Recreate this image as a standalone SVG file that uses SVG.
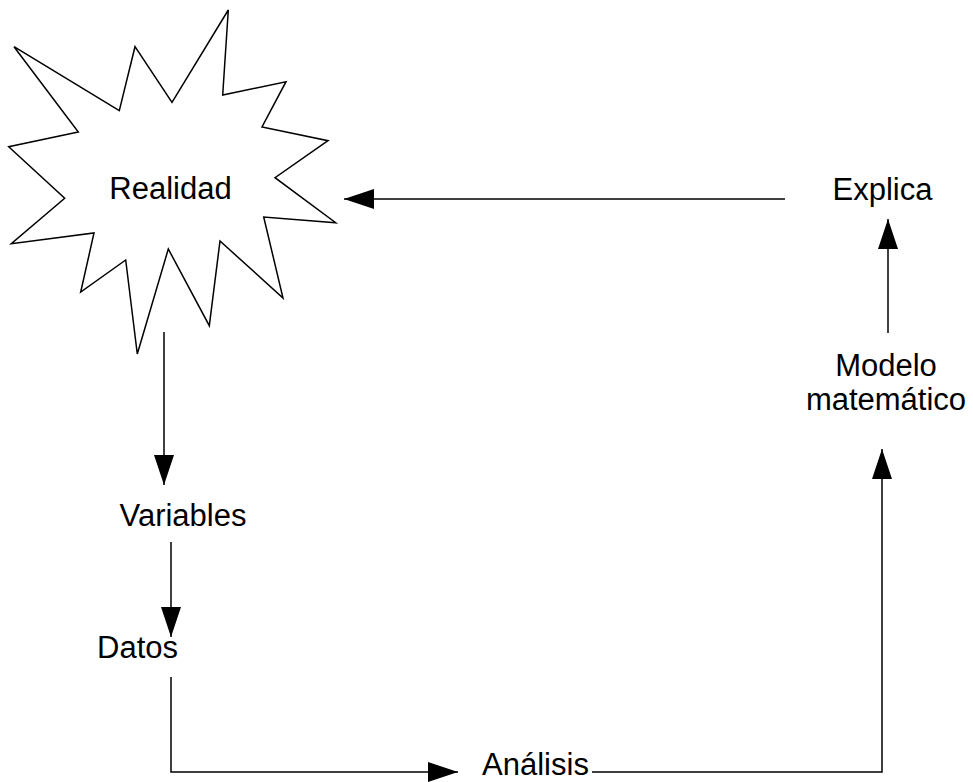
<svg xmlns="http://www.w3.org/2000/svg" width="973" height="782" viewBox="0 0 973 782">
  <style>
    .lbl { font-family: "Liberation Sans", Arial, sans-serif; font-size: 31px; fill: #000; text-anchor: middle; }
    .shape { fill: #fff; stroke: #000; stroke-width: 1.5; stroke-linejoin: miter; }
    .edge { fill: none; stroke: #000; stroke-width: 1.5; }
  </style>
  <defs>
    <marker id="arrow" viewBox="0 0 30 20" refX="30" refY="10" markerWidth="30" markerHeight="20" markerUnits="userSpaceOnUse" orient="auto">
      <path d="M0,0 L30,10 L0,20 z" fill="#000"/>
    </marker>
  </defs>
  <rect width="973" height="782" fill="#fff"/>

  <!-- burst shape around the first node -->
  <g id="realidad">
    <polygon class="shape" points="228.3,10 222.7,95 286,81.7 262,127 328,140.7 275,177.7 335.7,222.7 263.7,217 283,298 220,241 209.3,325.7 168.3,249 137.3,354 125.7,260 80.7,292 94,233 11.3,243.7 64.7,198.3 8.7,146.7 78.3,132 14,46.7 119.3,110.7 135,46.7 172,102.3"/>
    <text class="lbl" x="170.5" y="199">Realidad</text>
  </g>

  <g id="variables">
    <text class="lbl" x="183" y="526">Variables</text>
  </g>

  <g id="datos">
    <text class="lbl" x="137.5" y="658">Datos</text>
  </g>

  <g id="analisis">
    <text class="lbl" x="535.5" y="775">Análisis</text>
  </g>

  <g id="modelo">
    <text class="lbl" x="886" y="376">Modelo</text>
    <text class="lbl" x="886" y="410">matemático</text>
  </g>

  <g id="explica">
    <text class="lbl" x="882.5" y="200">Explica</text>
  </g>

  <!-- connectors -->
  <g id="connectors">
    <line class="edge" x1="785" y1="199" x2="344" y2="199" marker-end="url(#arrow)"/>
    <line class="edge" x1="888" y1="333" x2="888" y2="219" marker-end="url(#arrow)"/>
    <line class="edge" x1="164" y1="332" x2="164" y2="485" marker-end="url(#arrow)"/>
    <line class="edge" x1="171" y1="542" x2="171" y2="637" marker-end="url(#arrow)"/>
    <polyline class="edge" points="171,677 171,772 458,772" marker-end="url(#arrow)"/>
    <polyline class="edge" points="592,772 882,772 882,449" marker-end="url(#arrow)"/>
  </g>
</svg>
